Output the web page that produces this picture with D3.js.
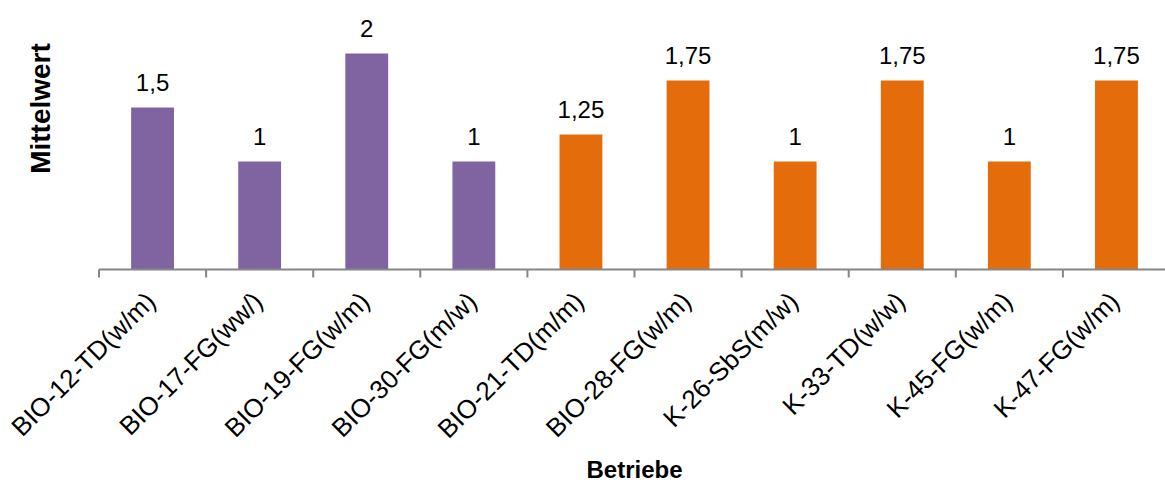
<!DOCTYPE html>
<html>
<head>
<meta charset="utf-8">
<script src="https://cdn.jsdelivr.net/npm/d3@7"></script>
<style>
  html, body { margin: 0; padding: 0; background: #fff; }
  svg { display: block; font-family: "Liberation Sans", Arial, sans-serif; }
</style>
</head>
<body>
<svg id="chart" width="1165" height="483"></svg>
<script>
const categories = ["BIO-12-TD(w/m)", "BIO-17-FG(ww/)", "BIO-19-FG(w/m)", "BIO-30-FG(m/w)", "BIO-21-TD(m/m)", "BIO-28-FG(w/m)", "K-26-SbS(m/w)", "K-33-TD(w/w)", "K-45-FG(w/m)", "K-47-FG(w/m)"];
const values = [1.5, 1, 2, 1, 1.25, 1.75, 1, 1.75, 1, 1.75];
const groups = ["BIO", "BIO", "BIO", "BIO", "K", "K", "K", "K", "K", "K"];
const groupColors = { BIO: "#8064A2", K: "#E46C0A" };
const yDomain = [0, 2];
const xTitle = "Betriebe";
const yTitle = "Mittelwert";

(function () {
const svg = d3.select("#chart");
const plotLeft = 99, plotRight = 1170, plotBase = 269.5, plotTop = 53.5;

const x = d3.scaleBand().domain(categories).range([plotLeft, plotRight]).padding(0);
const y = d3.scaleLinear().domain(yDomain).range([plotBase, plotTop]);
const barW = x.bandwidth() * 0.4;
const fmt = v => String(v).replace(".", ",");

// bars
svg.append("g").selectAll("rect").data(categories).join("rect")
  .attr("x", (d) => x(d) + x.bandwidth() / 2 - barW / 2)
  .attr("y", (d, i) => y(values[i]))
  .attr("width", barW)
  .attr("height", (d, i) => plotBase - y(values[i]))
  .attr("fill", (d, i) => groupColors[groups[i]]);

// value labels
svg.append("g").selectAll("text").data(categories).join("text")
  .attr("x", (d) => x(d) + x.bandwidth() / 2)
  .attr("y", (d, i) => y(values[i]) - 17)
  .attr("text-anchor", "middle")
  .attr("font-size", 24)
  .attr("fill", "#000")
  .text((d, i) => fmt(values[i]));

// x axis line & ticks
const ax = svg.append("g");
ax.append("line").attr("x1", plotLeft).attr("x2", plotRight).attr("y1", plotBase).attr("y2", plotBase)
  .attr("stroke", "#868686").attr("stroke-width", 2);
const tickPos = categories.map(c => x(c)).concat([plotRight]);
ax.selectAll("line.tick").data(tickPos).join("line").attr("class", "tick")
  .attr("x1", d => d).attr("x2", d => d).attr("y1", plotBase).attr("y2", plotBase + 8)
  .attr("stroke", "#868686").attr("stroke-width", 2);

// category labels
ax.selectAll("text").data(categories).join("text")
  .attr("transform", d => `translate(${x(d) + x.bandwidth() / 2 + 4.5},303) rotate(-45)`)
  .attr("text-anchor", "end")
  .attr("font-size", 26)
  .attr("fill", "#000")
  .text(d => d);

// titles
svg.append("text").attr("x", (plotLeft + plotRight) / 2).attr("y", 478)
  .attr("text-anchor", "middle").attr("font-size", 24).attr("font-weight", "bold")
  .text(xTitle);
svg.append("text").attr("transform", "translate(50,108.5) rotate(-90)")
  .attr("text-anchor", "middle").attr("font-size", 28).attr("font-weight", "bold")
  .text(yTitle);
})();
</script>
</body>
</html>
